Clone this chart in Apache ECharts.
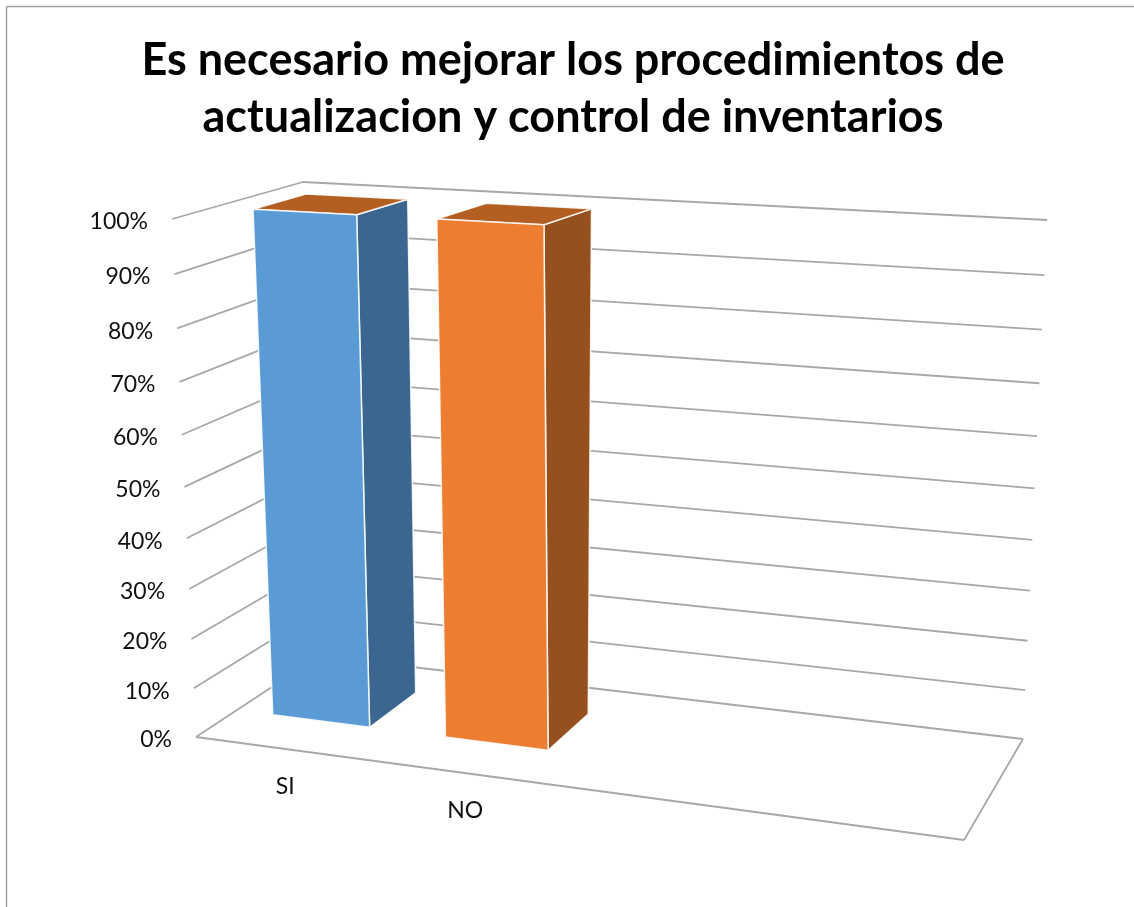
<!DOCTYPE html>
<html><head><meta charset="utf-8">
<style>html,body{margin:0;padding:0;background:#fff}#c{width:1134px;height:907px}</style>
<script src="https://cdn.jsdelivr.net/npm/echarts@6/dist/echarts.min.js"></script>
</head><body><div id="c"></div>
<script>
const titleText = "Es necesario mejorar los procedimientos de\nactualizacion y control de inventarios";
const categories = ["SI", "NO", "", ""];
const siValues = [100, null, null, null];
const noValues = [null, 100, null, null];
const tickValues = [0, 10, 20, 30, 40, 50, 60, 70, 80, 90, 100];
const tickLabels = ["0%", "10%", "20%", "30%", "40%", "50%", "60%", "70%", "80%", "90%", "100%"];

// Perspective box of the 3D chart: screen corners of the four vertical edges.
const EDGES = {
  fl: [[196, 737], [172, 219]],
  fr: [[964, 840], [952, 262]],
  br: [[1023, 739], [1047, 220]],
  bl: [[319, 656], [303, 182]]
};
const V_PERSPECTIVE = 0.934;
const BAR_RATIO = 0.568, DEPTH_NEAR = 0.31, DEPTH_FAR = 0.72;
const FONT = "Lato, Carlito, sans-serif";
const GRID_COLOR = "#a8a8a8";

function edgePoint(e, v) {
  const b = V_PERSPECTIVE, d = 1 + v * (b - 1);
  return [0, 1].map(i => (e[0][i] + v * (b * e[1][i] - e[0][i])) / d);
}
// unit square -> quad (p00,p10,p11,p01) homography
function quadMap(p0, p1, p2, p3, u, w) {
  const dx1 = p1[0] - p2[0], dx2 = p3[0] - p2[0], sx = p0[0] - p1[0] + p2[0] - p3[0];
  const dy1 = p1[1] - p2[1], dy2 = p3[1] - p2[1], sy = p0[1] - p1[1] + p2[1] - p3[1];
  const den = dx1 * dy2 - dx2 * dy1;
  const g = (sx * dy2 - dx2 * sy) / den, h = (dx1 * sy - sx * dy1) / den;
  const a = p1[0] - p0[0] + g * p1[0], b = p3[0] - p0[0] + h * p3[0];
  const d = p1[1] - p0[1] + g * p1[1], e = p3[1] - p0[1] + h * p3[1];
  const q = g * u + h * w + 1;
  return [(a * u + b * w + p0[0]) / q, (d * u + e * w + p0[1]) / q];
}
function project(u, v, w) {
  return quadMap(edgePoint(EDGES.fl, v), edgePoint(EDGES.fr, v), edgePoint(EDGES.br, v), edgePoint(EDGES.bl, v), u, w);
}
function frac(params, api, cat, val) {
  const g = params.coordSys, c = api.coord([cat, val]);
  return { u: (c[0] - g.x) / g.width, v: (g.y + g.height - c[1]) / g.height, band: api.size([1, 0])[0] / g.width };
}
function seg(a, b, lw) {
  return { type: "line", shape: { x1: a[0], y1: a[1], x2: b[0], y2: b[1] },
           style: { stroke: GRID_COLOR, lineWidth: lw || 1.8 } };
}
function wallItem(params, api) {
  const tick = api.value(0);
  const { v } = frac(params, api, 0, tick);
  const children = [
    seg(project(0, v, 0), project(0, v, 1)),
    seg(project(0, v, 1), project(1, v, 1))
  ];
  const left = project(0, v, 0);
  children.push({ type: "text", style: {
    text: tickLabels[params.dataIndex], x: left[0] - 24, y: left[1] + 3,
    align: "right", verticalAlign: "middle", fill: "#111", font: "23px " + FONT } });
  if (tick === 0) {
    children.push(seg(project(0, 0, 0), project(1, 0, 0)));
    children.push(seg(project(1, 0, 0), project(1, 0, 1)));
  }
  return { type: "group", children };
}
function catLabelItem(params, api) {
  const { u } = frac(params, api, api.value(0), 0);
  const p = project(u, 0, 0);
  return { type: "text", style: { text: categories[params.dataIndex], x: p[0] + 3, y: p[1] + 38,
    align: "center", verticalAlign: "middle", fill: "#111", font: "23px " + FONT } };
}
function barRenderer(front, side, top) {
  return function (params, api) {
    const val = api.value(1);
    if (val == null || isNaN(val)) return;
    const f = frac(params, api, api.value(0), val);
    const hw = f.band * BAR_RATIO / 2, u0 = f.u - hw, u1 = f.u + hw;
    const edge = { stroke: "rgba(255,255,255,0.85)", lineWidth: 1.5, lineJoin: "round" };
    const n = (u, v, w) => project(u, v, w);
    return { type: "group", children: [
      { type: "polygon", shape: { points: [n(u1, 0, DEPTH_NEAR), n(u1, 0, DEPTH_FAR), n(u1, f.v, DEPTH_FAR), n(u1, f.v, DEPTH_NEAR)] },
        style: Object.assign({ fill: side }, edge) },
      { type: "polygon", shape: { points: [n(u0, f.v, DEPTH_NEAR), n(u1, f.v, DEPTH_NEAR), n(u1, f.v, DEPTH_FAR), n(u0, f.v, DEPTH_FAR)] },
        style: Object.assign({ fill: top }, edge) },
      { type: "polygon", shape: { points: [n(u0, 0, DEPTH_NEAR), n(u1, 0, DEPTH_NEAR), n(u1, f.v, DEPTH_NEAR), n(u0, f.v, DEPTH_NEAR)] },
        style: Object.assign({ fill: front }, edge) }
    ] };
  };
}
const chart = echarts.init(document.getElementById("c"), null, { renderer: "canvas" });
chart.setOption({
  animation: false,
  backgroundColor: "#fff",
  title: { text: titleText, left: 568, top: 27, textAlign: "center",
    textStyle: { fontFamily: FONT, fontWeight: 700, fontSize: 45, lineHeight: 57, color: "#000" } },
  grid: { left: 100, right: 100, top: 200, bottom: 200 },
  xAxis: { type: "category", data: categories, show: false },
  yAxis: { type: "value", min: 0, max: 100, interval: 10, show: false },
  graphic: [
    { type: "line", silent: true, shape: { x1: 6.5, y1: 6.5, x2: 1134, y2: 6.5 }, style: { stroke: "#a0a0a0", lineWidth: 1.5 } },
    { type: "line", silent: true, shape: { x1: 6.5, y1: 6.5, x2: 6.5, y2: 907 }, style: { stroke: "#a0a0a0", lineWidth: 1.5 } }
  ],
  series: [
    { type: "custom", silent: true, z: 1, renderItem: wallItem, encode: { y: 0 }, data: tickValues.map(t => [t]) },
    { type: "custom", silent: true, z: 1, renderItem: catLabelItem, data: [[0], [1]] },
    { type: "custom", silent: true, z: 2, renderItem: barRenderer("#5B9BD5", "#3A668F", "#B45F22"),
      data: siValues.map((v, i) => [i, v]) },
    { type: "custom", silent: true, z: 3, renderItem: barRenderer("#ED7D31", "#96501E", "#B45F22"),
      data: noValues.map((v, i) => [i, v]) }
  ]
});
</script></body></html>
